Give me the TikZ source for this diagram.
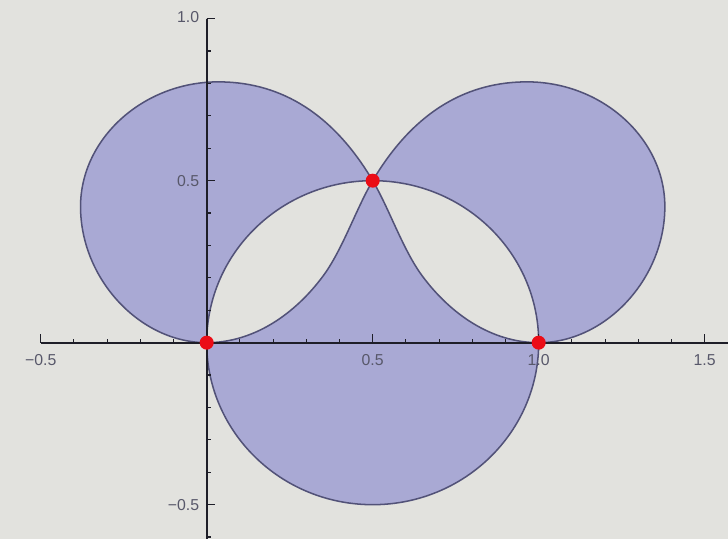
\documentclass[tikz,border=0pt]{standalone}
\usepackage{fontspec}
\setmainfont{Liberation Sans}
\definecolor{bgcol}{RGB}{226,226,222}
\definecolor{lobefill}{RGB}{169,169,212}
\definecolor{edgecol}{RGB}{82,82,120}
\definecolor{axiscol}{RGB}{30,30,40}
\definecolor{labelcol}{RGB}{88,88,106}
\definecolor{dotred}{RGB}{235,12,22}
\tikzset{
  ticklabel/.style={text=labelcol,font=\fontsize{13.5}{13.5}\selectfont,inner sep=0pt},
  axisline/.style={axiscol,line width=1.8pt},
  tickline/.style={axiscol,line width=1pt}
}
\begin{document}
\begin{tikzpicture}[x=9.96cm,y=9.72cm]

\useasboundingbox[fill=bgcol] (-0.6226,-0.6059) rectangle (1.5702,1.0577);

\draw[even odd rule,fill=lobefill,draw=edgecol,line width=1.3pt,line join=round]
(0.5,0.5) .. controls (0.63,0.725) and (0.795,0.805) .. (0.965,0.805)
.. controls (1.191,0.805) and (1.38,0.63) .. (1.38,0.42)
.. controls (1.38,0.197) and (1.2014,0) .. (1,0)
.. controls (0.857,0) and (0.734,0.0893) .. (0.65,0.205)
.. controls (0.5912,0.2859) and (0.55,0.4134) .. cycle
(0.5,0.5) .. controls (0.37,0.725) and (0.205,0.805) .. (0.035,0.805)
.. controls (-0.191,0.805) and (-0.38,0.63) .. (-0.38,0.42)
.. controls (-0.38,0.197) and (-0.2014,0) .. (0,0)
.. controls (0.143,0) and (0.266,0.0893) .. (0.35,0.205)
.. controls (0.4088,0.2859) and (0.45,0.4134) .. cycle
(0.5,0) circle[radius=0.5];

\draw[axisline] (-0.5,0)--(1.5702,0);
\draw[axisline] (0,1)--(0,-0.6059);

\foreach \t in {-5,...,15}
  \draw[tickline] (\t/10,0)--++(0,0.012);
\foreach \t in {-0.5,0.5,1,1.5}
  \draw[tickline] (\t,0)--++(0,0.026);
\foreach \t in {-6,...,10}
  \draw[tickline] (0,\t/10)--++(0.012,0);
\foreach \t in {-0.5,0.5,1}
  \draw[tickline] (0,\t)--++(0.026,0);

\node[ticklabel] (xlabA) at (-0.5,-0.054) {−0.5};
\node[ticklabel] (xlabB) at (0.5,-0.054) {0.5};
\node[ticklabel] (xlabC) at (1,-0.054) {1.0};
\node[ticklabel] (xlabD) at (1.5,-0.054) {1.5};
\node[ticklabel,anchor=east] (ylabA) at (-0.022,1.005) {1.0};
\node[ticklabel,anchor=east] (ylabB) at (-0.022,0.5) {0.5};
\node[ticklabel,anchor=east] (ylabC) at (-0.022,-0.5) {−0.5};

\fill[dotred] (0,0) circle (0.21cm);
\fill[dotred] (0.5,0.5) circle (0.21cm);
\fill[dotred] (1,0) circle (0.21cm);

\end{tikzpicture}
\end{document}
